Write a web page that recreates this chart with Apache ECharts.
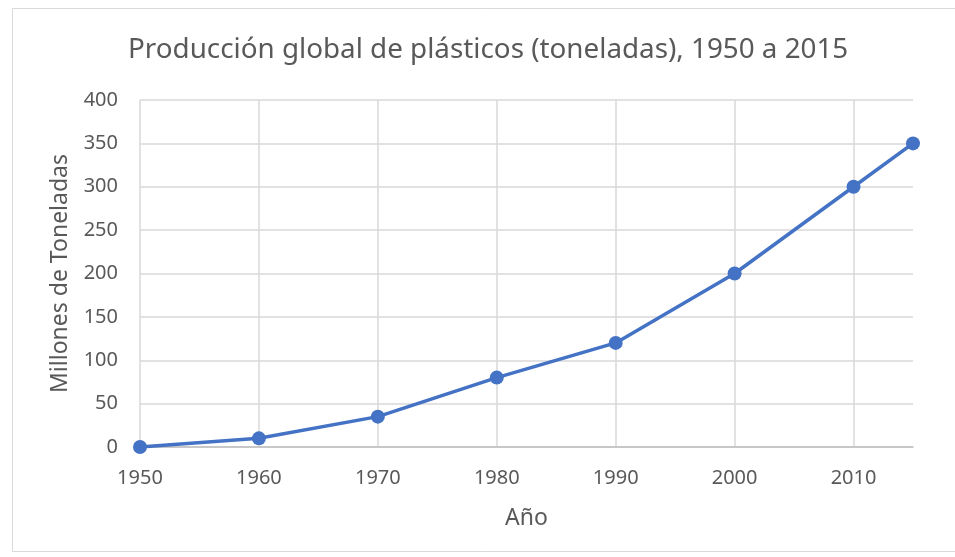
<!DOCTYPE html>
<html>
<head>
<meta charset="utf-8">
<script src="https://cdn.jsdelivr.net/npm/echarts@6/dist/echarts.min.js"></script>
<style>
  html, body { margin: 0; padding: 0; background: #fff; }
  #chart { width: 955px; height: 557px; }
</style>
</head>
<body>
<div id="chart"></div>
<script>
// datos
var years = [1950, 1960, 1970, 1980, 1990, 2000, 2010, 2015];
var produccion = [0, 10, 35, 80, 120, 200, 300, 350];

var seriesData = years.map(function (y, i) { return [y, produccion[i]]; });

var myChart = echarts.init(document.getElementById('chart'));

var option = {
    backgroundColor: '#fff',
    //marco exterior
    graphic: [{
        type: 'rect',
        shape: { x: 12.5, y: 8.5, width: 960, height: 543 },
        style: { fill: 'none', stroke: '#d9d9d9', lineWidth: 1 },
        silent: true
    }],
    title: {
        text: 'Producción global de plásticos (toneladas), 1950 a 2015',
        left: 123,
        top: 31,
        textStyle: {
            fontFamily: 'Noto Sans',
            fontSize: 27.8,
            fontWeight: 'normal',
            color: '#595959'
        }
    },
    grid: { left: 140, right: 42, top: 100, bottom: 110 },
    xAxis: {
        type: 'value',
        min: 1950,
        max: 2015,
        interval: 10,
        name: 'Año',
        nameLocation: 'middle',
        nameGap: 60,
        nameTextStyle: { fontFamily: 'Noto Sans', fontSize: 23, color: '#595959' },
        axisLine: { show: true, lineStyle: { color: '#bfbfbf', width: 1.5 } },
        axisTick: { show: false },
        axisLabel: {
            margin: 21,
            showMaxLabel: false,
            fontFamily: 'Noto Sans',
            fontSize: 20,
            color: '#595959',
            formatter: function (v) { return v === 2015 ? '' : String(v); }
        },
        splitLine: { show: true, showMaxLine: false, lineStyle: { color: '#d9d9d9', width: 1.5 } }
    },
    yAxis: {
        type: 'value',
        min: 0,
        max: 400,
        interval: 50,
        name: 'Millones de Toneladas',
        nameLocation: 'middle',
        nameGap: 68,
        nameTextStyle: { fontFamily: 'Noto Sans', fontSize: 23, color: '#595959' },
        axisLine: { show: false },
        axisTick: { show: false },
        axisLabel: { margin: 22, fontFamily: 'Noto Sans', fontSize: 20, color: '#595959' },
        splitLine: { show: true, lineStyle: { color: '#d9d9d9', width: 1.5 } }
    },
    series: [{
        type: 'line',
        data: seriesData,
        symbol: 'circle',
        symbolSize: 14,
        lineStyle: { color: '#4472c4', width: 3.5 },
        itemStyle: { color: '#4472c4' },
        z: 3
    }]
};

myChart.setOption(option);
</script>
</body>
</html>
